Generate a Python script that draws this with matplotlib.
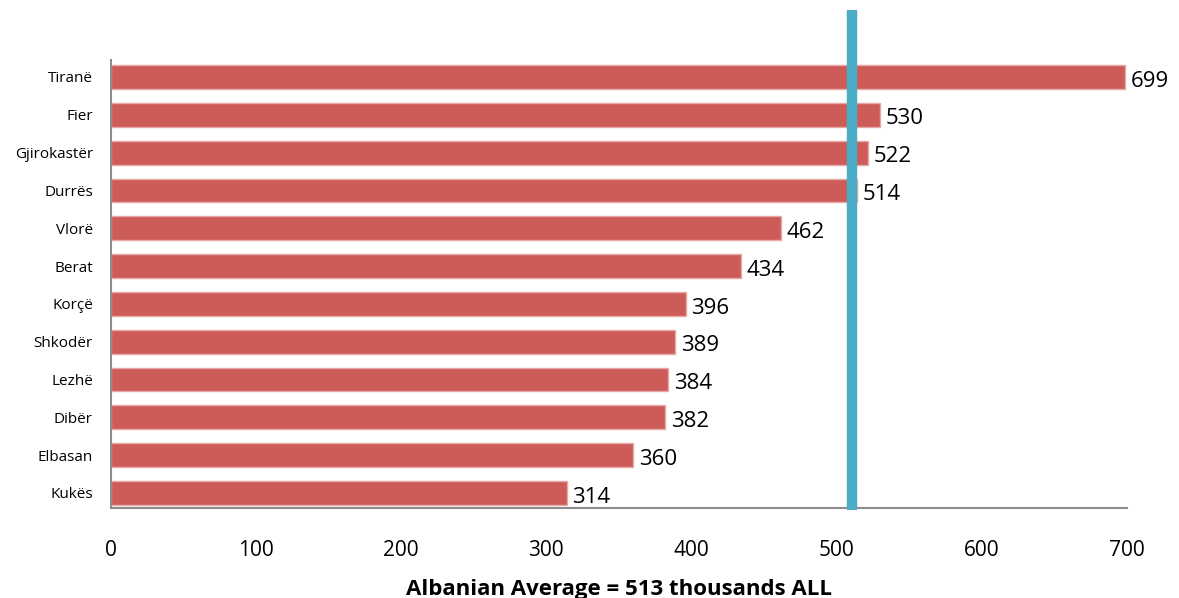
"""
Average wage by prefecture, horizontal bars with the national average line.
Saves out.png (1179x598).
"""

import matplotlib
matplotlib.use("Agg")
import matplotlib.pyplot as plt

BAR_RED   = "#CD5B57"
BAR_EDGE  = "#E8A8A5"
LINE_BLUE = "#4BACC6"
AXIS_GRAY = "#8C8C8C"
TEXT      = "#000000"

plt.rcParams["font.family"] = ["Open Sans", "DejaVu Sans"]

prefectures = ["Tiranë", "Fier", "Gjirokastër", "Durrës", "Vlorë", "Berat",
               "Korçë", "Shkodër", "Lezhë", "Dibër", "Elbasan", "Kukës"]
wages = [699, 530, 522, 514, 462, 434, 396, 389, 384, 382, 360, 314]
average_label = 513
average_line = 511
x_ticks = [0, 100, 200, 300, 400, 500, 600, 700]


def main():
    fig = plt.figure(figsize=(11.79, 5.98), dpi=100, facecolor="white")
    ax = fig.add_axes([0.0941, 0.1505, 0.8616, 0.7492])

    pos = list(range(len(prefectures)))
    ax.barh(pos, wages, height=0.63, color=BAR_RED, edgecolor=BAR_EDGE, linewidth=1.0,
            zorder=2)

    for p, v in zip(pos, wages):
        ax.annotate(str(v), xy=(v, p), xytext=(4, -3), textcoords="offset points",
                    ha="left", va="center", fontsize=16, color=TEXT)

    # national average, drawn past the top of the axes like the original
    ax.plot([average_line, average_line], [-1.78, 11.45], color=LINE_BLUE, lw=7.5,
            solid_capstyle="butt", clip_on=False, zorder=3)

    ax.set_xlim(0, 700)
    ax.set_ylim(11.4, -0.45)
    ax.set_yticks(pos)
    ax.set_yticklabels(prefectures, fontsize=11)
    ax.set_xticks(x_ticks)
    ax.set_xticklabels([str(t) for t in x_ticks], fontsize=15)
    ax.tick_params(axis="both", length=0)
    ax.tick_params(axis="x", pad=23)
    ax.tick_params(axis="y", pad=13)

    for side in ("top", "right"):
        ax.spines[side].set_visible(False)
    for side in ("left", "bottom"):
        ax.spines[side].set_color(AXIS_GRAY)
        ax.spines[side].set_linewidth(1.5)

    ax.set_xlabel(f"Albanian Average = {average_label} thousands ALL",
                  fontsize=16, fontweight="bold", labelpad=13)

    fig.savefig("out.png", dpi=100, facecolor="white")
    plt.close(fig)


if __name__ == "__main__":
    main()
